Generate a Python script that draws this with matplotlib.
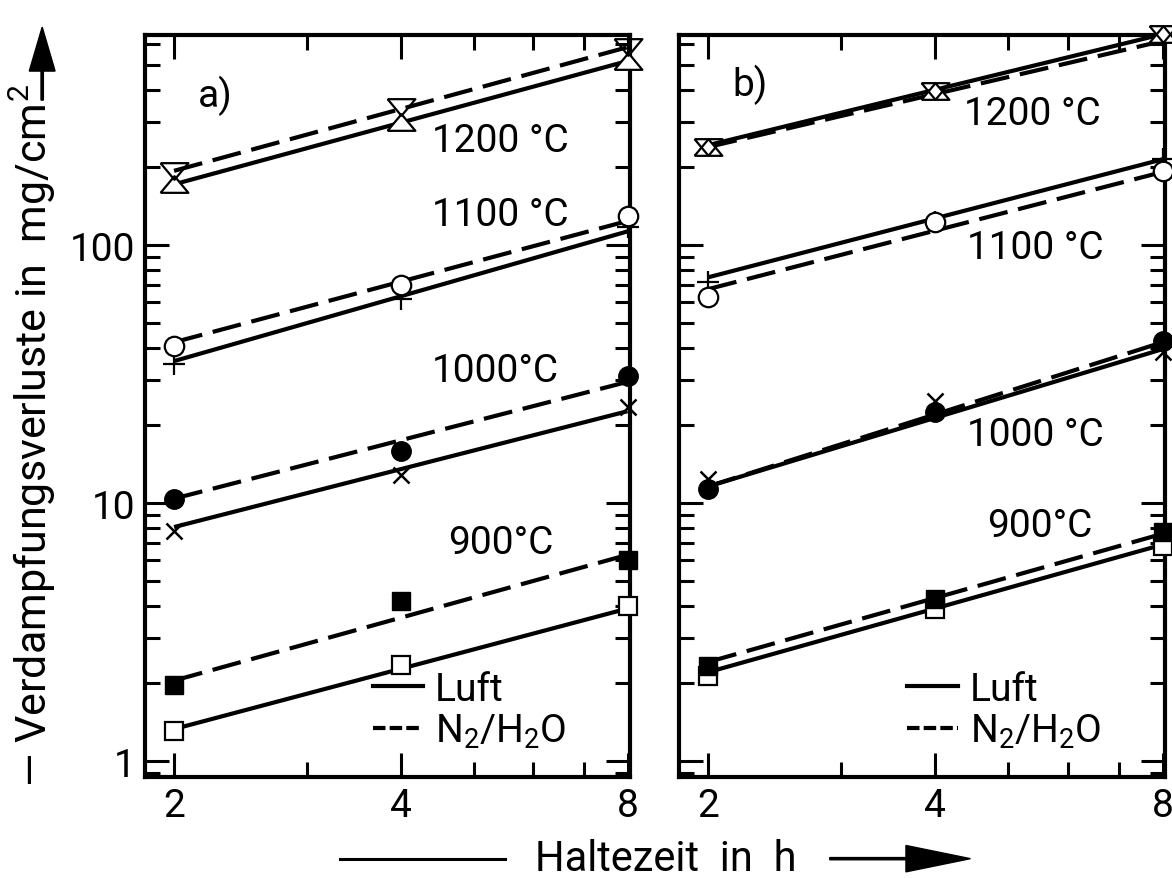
import numpy as np
import matplotlib
matplotlib.use('Agg')
import matplotlib.pyplot as plt
from matplotlib.lines import Line2D
from matplotlib.patches import FancyArrow
from matplotlib.ticker import LogLocator, FixedLocator, NullFormatter, FixedFormatter

plt.rcParams['font.family'] = ['Roboto', 'DejaVu Sans']
plt.rcParams['mathtext.fontset'] = 'custom'
plt.rcParams['mathtext.rm'] = 'Roboto'

# Haltezeit in h
x_pts = [2, 4, 8]
x_fit = [2, 8]
temps = ['1200', '1100', '1000', '900']

# a) measured points (mg/cm2)
a_luft = {'1200': [172, 300, 517], '1100': [34.6, 61.8, 117],
          '1000': [7.8, 12.8, 23.6], '900': [1.31, 2.36, 4.0]}
a_n2 = {'1200': [194, 343, 585], '1100': [40.6, 70, 129.5],
        '1000': [10.4, 15.9, 31], '900': [1.97, 4.17, 6.0]}
# a) straight lines at 2 h and 8 h
a_fit_luft = {'1200': [172, 517], '1100': [35.5, 113],
              '1000': [8.07, 22.7], '900': [1.33, 3.9]}
a_fit_n2 = {'1200': [194, 585], '1100': [42, 124],
            '1000': [10.4, 29.5], '900': [2.05, 6.3]}

# b)
b_luft = {'1200': [240, 395, 660], '1100': [71.9, 123, 215],
          '1000': [12.4, 24.9, 38.5], '900': [2.13, 3.88, 6.8]}
b_n2 = {'1200': [240, 395, 660], '1100': [62.9, 123, 194],
        '1000': [11.3, 22.5, 42.5], '900': [2.34, 4.24, 7.7]}
b_fit_luft = {'1200': [244, 657], '1100': [75, 215],
              '1000': [11.6, 39.5], '900': [2.21, 6.9]}
b_fit_n2 = {'1200': [240, 618], '1100': [67.5, 192],
            '1000': [11.6, 42], '900': [2.42, 7.6]}

# temperature labels (x, y, text)
a_labels = [(4.40, 255, '1200 °C'), (4.40, 131, '1100 °C'),
            (4.40, 32.7, '1000°C'), (4.62, 7.06, '900°C')]
b_labels = [(4.37, 325, '1200 °C'), (4.40, 97.6, '1100 °C'),
            (4.40, 18.5, '1000 °C'), (4.68, 8.15, '900°C')]

tri_up = [(-1, -0.6), (1, -0.6), (0, 0.6), (-1, -0.6)]
tri_dn = [(-1, 0.6), (1, 0.6), (0, -0.6), (-1, 0.6)]

# marker styles per temperature: (luft, n2)
mk = {
    '1200': (dict(marker=tri_up, ms=20, mfc='white', mec='k', mew=1.6),
             dict(marker=tri_dn, ms=20, mfc='none', mec='k', mew=1.6)),
    '1100': (dict(marker='+', ms=16, mec='k', mew=1.6),
             dict(marker='o', ms=14, mfc='white', mec='k', mew=1.6)),
    '1000': (dict(marker='x', ms=12, mec='k', mew=1.8),
             dict(marker='o', ms=14, mfc='k', mec='k')),
    '900': (dict(marker='s', ms=13, mfc='white', mec='k', mew=1.6),
            dict(marker='s', ms=13, mfc='k', mec='k')),
}

FS = 28
LW = 3.0
DASH = (7, 2.6)


def style_axes(ax, ylabels):
    ax.set_xscale('log')
    ax.set_yscale('log')
    ax.set_xlim(1.83, 8.06)
    ax.set_ylim(0.867, 652)
    for s in ax.spines.values():
        s.set_linewidth(3)
    ax.xaxis.set_major_locator(FixedLocator([2, 4, 8]))
    ax.xaxis.set_major_formatter(FixedFormatter(['2', '4', '8']))
    ax.xaxis.set_minor_locator(FixedLocator([3, 5, 6, 7]))
    ax.xaxis.set_minor_formatter(NullFormatter())
    ax.yaxis.set_major_locator(FixedLocator([1, 10, 100]))
    ax.yaxis.set_minor_locator(LogLocator(base=10, subs=np.arange(2, 10)))
    ax.yaxis.set_minor_formatter(NullFormatter())
    if ylabels:
        ax.yaxis.set_major_formatter(FixedFormatter(['1', '10', '100']))
    else:
        ax.yaxis.set_major_formatter(NullFormatter())
    ax.tick_params(which='both', direction='in', top=True, right=True,
                   width=2.2, labelsize=FS, pad=7)
    ax.tick_params(which='major', length=17)
    ax.tick_params(which='minor', length=11)


def draw_panel(ax, luft, n2, fit_luft, fit_n2, labels, tag, tag_pos):
    for t in temps:
        ax.plot(x_fit, fit_luft[t], color='k', lw=LW, solid_capstyle='butt')
        ax.plot(x_fit, fit_n2[t], color='k', lw=LW, dashes=DASH)
        ax.plot(x_pts, luft[t], ls='none', clip_on=False, zorder=4, **mk[t][0])
        ax.plot(x_pts, n2[t], ls='none', clip_on=False, zorder=4, **mk[t][1])
    for x, y, s in labels:
        ax.text(x, y, s, fontsize=FS, va='center', ha='left')
    ax.text(tag_pos[0], tag_pos[1], tag, fontsize=FS, transform=ax.transAxes,
            va='center', ha='left')
    handles = [Line2D([], [], color='k', lw=LW),
               Line2D([], [], color='k', lw=LW, dashes=(3, 1))]
    ax.legend(handles, ['Luft', 'N$_2$/H$_2$O'], loc='upper left',
              bbox_to_anchor=(0.47, 0.143), frameon=False, fontsize=FS,
              handlelength=1.3, handletextpad=0.3, labelspacing=0.1,
              borderpad=0, borderaxespad=0)


fig = plt.figure(figsize=(11.72, 8.79), dpi=100)
ax1 = fig.add_axes([0.1237, 0.1149, 0.4138, 0.8441])
ax2 = fig.add_axes([0.5794, 0.1149, 0.4146, 0.8441])

style_axes(ax1, True)
style_axes(ax2, False)
draw_panel(ax1, a_luft, a_n2, a_fit_luft, a_fit_n2, a_labels, 'a)', (0.11, 0.92))
draw_panel(ax2, b_luft, b_n2, b_fit_luft, b_fit_n2, b_labels, 'b)', (0.11, 0.934))

# y axis label with arrow
fig.text(0.028, 0.505, '— Verdampfungsverluste in  mg/cm$^2$', rotation=90,
         fontsize=31, ha='center', va='center')
fig.patches.append(FancyArrow(
    0.036, 0.885, 0, 0.083, width=0.002, head_width=0.022, head_length=0.05,
    length_includes_head=True, color='k', transform=fig.transFigure))

# x axis label with arrows
fig.text(0.568, 0.009, 'Haltezeit  in  h', fontsize=30, ha='center',
         va='baseline')
fig.add_artist(Line2D([0.29, 0.431], [0.022, 0.022], color='k', lw=2.2,
                      transform=fig.transFigure))
fig.patches.append(FancyArrow(
    0.708, 0.022, 0.12, 0, width=0.0025, head_width=0.03, head_length=0.055,
    length_includes_head=True, color='k', transform=fig.transFigure))

fig.savefig('out.png', dpi=100)
